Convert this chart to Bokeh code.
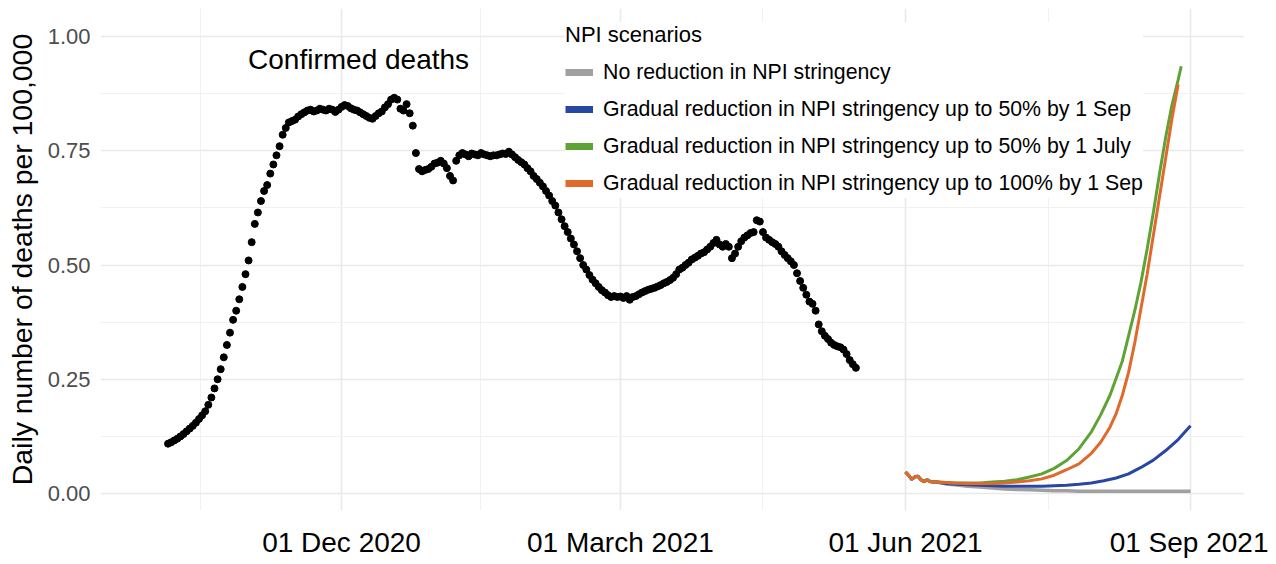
import pandas as pd
from bokeh.plotting import figure
from bokeh.models import (ColumnDataSource, Range1d, FixedTicker, Legend, LegendItem,
                          Label, NumeralTickFormatter)
from bokeh.embed import file_html
from bokeh.resources import INLINE

# ---------------- data ----------------
obs_start = "2020-10-06"
confirmed_deaths = [
    0.109, 0.112, 0.116, 0.120, 0.125, 0.130, 0.136, 0.142, 0.148, 0.155,
    0.163, 0.171, 0.180, 0.194, 0.210, 0.230, 0.250, 0.272, 0.298, 0.325,
    0.352, 0.380, 0.400, 0.425, 0.452, 0.480, 0.510, 0.550, 0.590, 0.615,
    0.640, 0.662, 0.675, 0.700, 0.720, 0.740, 0.760, 0.785, 0.800, 0.812,
    0.815, 0.818, 0.825, 0.830, 0.834, 0.838, 0.840, 0.836, 0.838, 0.842,
    0.840, 0.838, 0.842, 0.840, 0.835, 0.840, 0.846, 0.850, 0.848, 0.843,
    0.840, 0.838, 0.834, 0.830, 0.826, 0.822, 0.820, 0.826, 0.832, 0.836,
    0.845, 0.852, 0.862, 0.866, 0.862, 0.842, 0.838, 0.852, 0.832, 0.805,
    0.745, 0.710, 0.705, 0.708, 0.710, 0.715, 0.722, 0.724, 0.728, 0.722,
    0.712, 0.695, 0.685, 0.728, 0.740, 0.745, 0.742, 0.738, 0.744, 0.742,
    0.740, 0.745, 0.742, 0.740, 0.738, 0.740, 0.740, 0.742, 0.744, 0.743,
    0.748, 0.742, 0.736, 0.730, 0.725, 0.720, 0.712, 0.705, 0.695, 0.688,
    0.680, 0.672, 0.662, 0.652, 0.640, 0.630, 0.615, 0.600, 0.585, 0.572,
    0.558, 0.545, 0.530, 0.515, 0.500, 0.490, 0.478, 0.468, 0.460, 0.452,
    0.445, 0.440, 0.434, 0.430, 0.432, 0.430, 0.431, 0.428, 0.432, 0.424,
    0.430, 0.432, 0.436, 0.440, 0.443, 0.446, 0.448, 0.450, 0.453, 0.456,
    0.460, 0.463, 0.467, 0.472, 0.480, 0.490, 0.494, 0.500, 0.505, 0.512,
    0.516, 0.520, 0.525, 0.528, 0.534, 0.540, 0.548, 0.555, 0.545, 0.540,
    0.546, 0.540, 0.515, 0.525, 0.540, 0.552, 0.560, 0.565, 0.570, 0.572,
    0.598, 0.595, 0.572, 0.560, 0.555, 0.550, 0.546, 0.540, 0.530, 0.522,
    0.515, 0.508, 0.500, 0.482, 0.465, 0.450, 0.435, 0.420, 0.415, 0.400,
    0.370, 0.355, 0.345, 0.338, 0.330, 0.325, 0.322, 0.320, 0.315, 0.305,
    0.292, 0.283, 0.275,
]

proj_start = "2021-06-01"
early_days = [0, 1, 2, 3, 4, 5, 6, 7, 8, 9, 10]
early_vals = [0.047, 0.040, 0.031, 0.036, 0.038, 0.030, 0.026, 0.030, 0.026, 0.025, 0.025]

none_days = [13, 16, 20, 24, 28, 32, 36, 40, 44, 48, 52, 56, 60, 66, 72, 78, 84, 92]
none_vals = [0.021, 0.019, 0.016, 0.014, 0.012, 0.010, 0.009, 0.008, 0.007, 0.006,
             0.006, 0.005, 0.005, 0.005, 0.005, 0.005, 0.005, 0.005]

sep50_days = [13, 16, 20, 24, 28, 32, 36, 40, 44, 48, 52, 56, 60, 64, 68, 72, 76, 80, 84, 88, 92]
sep50_vals = [0.022, 0.020, 0.019, 0.018, 0.017, 0.016, 0.016, 0.016, 0.016, 0.017, 0.018,
              0.020, 0.023, 0.028, 0.034, 0.043, 0.057, 0.073, 0.094, 0.118, 0.148]

jul50_days = [13, 16, 20, 24, 28, 32, 36, 40, 44, 48, 52, 56, 60, 63, 66, 68, 70, 72, 74,
              76, 78, 80, 82, 84, 86, 88, 89]
jul50_vals = [0.024, 0.023, 0.023, 0.023, 0.025, 0.027, 0.030, 0.036, 0.043, 0.055, 0.072,
              0.098, 0.135, 0.172, 0.215, 0.252, 0.290, 0.345, 0.400, 0.462, 0.535, 0.615,
              0.700, 0.780, 0.850, 0.905, 0.935]

sep100_days = [13, 16, 20, 24, 28, 32, 36, 40, 44, 48, 52, 56, 60, 63, 66, 68, 70, 72, 74,
               76, 78, 80, 82, 84, 86, 88]
sep100_vals = [0.024, 0.023, 0.022, 0.022, 0.022, 0.023, 0.025, 0.028, 0.032, 0.040, 0.052,
               0.065, 0.088, 0.112, 0.145, 0.175, 0.215, 0.265, 0.330, 0.405, 0.480, 0.565,
               0.650, 0.735, 0.820, 0.895]

scenario_labels = [
    "No reduction in NPI stringency",
    "Gradual reduction in NPI stringency up to 50% by 1 Sep",
    "Gradual reduction in NPI stringency up to 50% by 1 July",
    "Gradual reduction in NPI stringency up to 100% by 1 Sep",
]
scenario_colors = ["#a0a0a0", "#2747a3", "#5ea335", "#e0692b"]
scenario_widths = [3.5, 3, 3, 3]

x_tick_dates = ["2020-12-01", "2021-03-01", "2021-06-01", "2021-09-01"]
x_tick_labels = ["01 Dec 2020", "01 March 2021", "01 Jun 2021", "01 Sep 2021"]
x_minor_dates = ["2020-10-16 12:00", "2021-01-15", "2021-04-16", "2021-07-17"]
y_ticks = [0.0, 0.25, 0.5, 0.75, 1.0]
y_minor = [0.125, 0.375, 0.625, 0.875]

annotation_text = "Confirmed deaths"
annotation_date = "2020-12-06 12:00"
annotation_y = 0.95

x_start, x_end = "2020-09-14 05:00", "2021-09-18 10:00"
y_start, y_end = -0.0372, 1.0613


def ms(d):
    return pd.Timestamp(d).value // 10**6


# ---------------- figure ----------------
FONT = "Liberation Sans"

p = figure(width=1268, height=560, output_backend="svg", toolbar_location=None,
           x_range=Range1d(ms(x_start), ms(x_end)), y_range=Range1d(y_start, y_end),
           min_border_left=100, min_border_right=24, min_border_top=8, min_border_bottom=50)
p.outline_line_color = None
p.background_fill_color = "white"
p.border_fill_color = "white"

# grids / axes
p.xaxis.ticker = FixedTicker(ticks=[ms(d) for d in x_tick_dates],
                             minor_ticks=[ms(d) for d in x_minor_dates])
p.xaxis.major_label_overrides = {ms(d): lab for d, lab in zip(x_tick_dates, x_tick_labels)}
p.yaxis.ticker = FixedTicker(ticks=y_ticks, minor_ticks=y_minor)
p.yaxis.formatter = NumeralTickFormatter(format="0.00")

for ax in (p.xaxis, p.yaxis):
    ax.axis_line_color = None
    ax.major_tick_line_color = None
    ax.minor_tick_line_color = None
    ax.major_tick_out = 0
    ax.minor_tick_out = 0

p.xaxis.major_label_text_font = FONT
p.xaxis.major_label_text_font_size = "28px"
p.xaxis.major_label_text_color = "black"
p.xaxis.major_label_standoff = 16

p.yaxis.major_label_text_font = FONT
p.yaxis.major_label_text_font_size = "22px"
p.yaxis.major_label_text_color = "#4d4d4d"
p.yaxis.major_label_standoff = 10
p.yaxis.axis_label = "Daily number of deaths per 100,000"
p.yaxis.axis_label_text_font = FONT
p.yaxis.axis_label_text_font_size = "28.4px"
p.yaxis.axis_label_text_font_style = "normal"
p.yaxis.axis_label_text_color = "black"
p.yaxis.axis_label_standoff = 7

for g in (p.xgrid, p.ygrid):
    g.grid_line_color = "#e9e9e9"
    g.grid_line_width = 1.6
    g.minor_grid_line_color = "#f1f1f1"
    g.minor_grid_line_width = 1.0

# observed points
obs_dates = pd.date_range(obs_start, periods=len(confirmed_deaths), freq="D")
obs_src = ColumnDataSource(dict(x=[ms(d) for d in obs_dates], y=confirmed_deaths))
p.scatter("x", "y", source=obs_src, size=7, color="black")

# projections
base = pd.Timestamp(proj_start)
series = [(none_days, none_vals), (sep50_days, sep50_vals),
          (jul50_days, jul50_vals), (sep100_days, sep100_vals)]
# legend proxies: thick swatches drawn from an off-screen copy (outside x_range)
proxy_x = [ms(x_start) - 20 * 86400000, ms(x_start) - 19 * 86400000]
legend_items = []
for (days, vals), lab, col, lw in zip(series, scenario_labels, scenario_colors, scenario_widths):
    dd = early_days + days
    vv = early_vals + vals
    src = ColumnDataSource(dict(x=[ms(base + pd.Timedelta(days=d)) for d in dd], y=vv))
    p.line("x", "y", source=src, line_color=col, line_width=lw)
    proxy = p.line(x=proxy_x, y=[vv[0], vv[0]], line_color=col, line_width=7)
    legend_items.append(LegendItem(label=lab, renderers=[proxy]))

legend = Legend(items=legend_items, location=(465, 312), title="NPI scenarios",
                title_text_font=FONT, title_text_font_size="22px", title_text_font_style="normal",
                title_text_color="black", title_standoff=9,
                label_text_font=FONT, label_text_font_size="21.3px", label_text_color="black",
                label_height=30, glyph_height=30, glyph_width=28, spacing=7, padding=6,
                margin=0, label_standoff=10, border_line_color=None,
                background_fill_color="white", background_fill_alpha=1.0)
p.add_layout(legend)

p.add_layout(Label(x=ms(annotation_date), y=annotation_y, text=annotation_text,
                   text_font=FONT, text_font_size="28px", text_color="black",
                   text_align="center", text_baseline="middle"))

open("out.html", "w").write(file_html(p, INLINE))
